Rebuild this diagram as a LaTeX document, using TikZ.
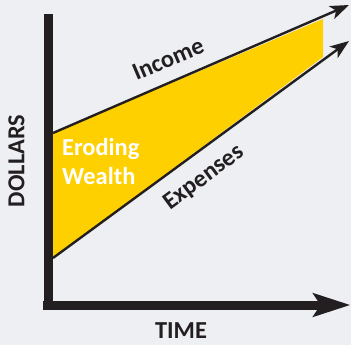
\documentclass[tikz,border=0pt]{standalone}
\usepackage{fontspec}
\setmainfont{Carlito}
\usetikzlibrary{arrows.meta}
\definecolor{bg}{RGB}{238,239,243}
\definecolor{gold}{RGB}{255,208,0}
\definecolor{ink}{RGB}{35,31,32}
\tikzset{
  lbl/.style={font=\bfseries\fontsize{24.5}{29}\selectfont, text=ink, inner sep=0pt},
  axis/.style={draw=ink, line width=9bp},
  trend/.style={draw=ink, line width=2.4bp, -{Stealth[length=19bp, width=14bp, inset=5bp]}},
}
\begin{document}
\begin{tikzpicture}[x=1bp, y=-1bp]
\fill[bg] (0,0) rectangle (351,345);
\useasboundingbox (0,0) rectangle (351,345);
% coordinates
\coordinate (ytop) at (48,14);
\coordinate (origin) at (48,305);
\coordinate (xstart) at (43,305);
\coordinate (xend) at (350.5,305);
\coordinate (inc0) at (53,133);
\coordinate (inc1) at (349,5);
\coordinate (exp0) at (53,258);
\coordinate (exp1) at (349,41);
% wealth band
\fill[gold] (inc0) -- (323,19) -- (323,57) -- (exp0) -- cycle;
% trend lines
\draw[trend] (inc0) -- (inc1);
\draw[trend] (exp0) -- (exp1);
% axes
\draw[axis] (ytop) -- (48,310);
\draw[axis, -{Stealth[length=37bp, width=23bp, inset=7bp]}] (xstart) -- (xend);
% labels
\node[lbl, rotate=23] (income) at (168,59) {Income};
\node[lbl, rotate=36.5] (expenses) at (204,178) {Expenses};
\node[lbl, text=white, align=left, anchor=north west] (wealth) at (62,138) {Eroding\\Wealth};
\node[lbl, rotate=90] (dollars) at (16.5,161) {DOLLARS};
\node[lbl] (time) at (181,331) {TIME};
\end{tikzpicture}
\end{document}
